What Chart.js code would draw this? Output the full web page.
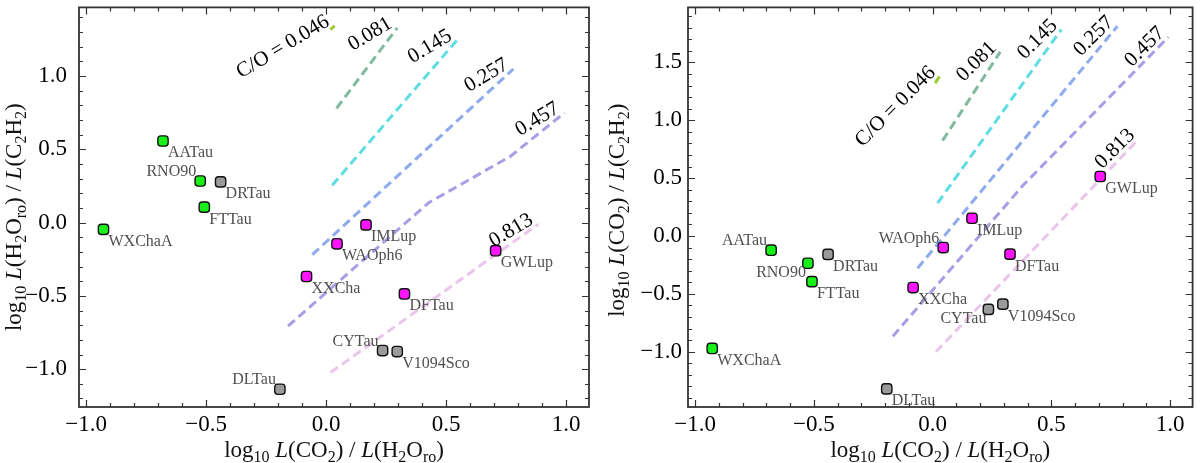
<!DOCTYPE html>
<html>
<head>
<meta charset="utf-8">
<script src="https://cdn.jsdelivr.net/npm/chart.js@4.4.1/dist/chart.umd.min.js"></script>
<style>
  html, body { margin: 0; background: #fff; }
  #wrap { position: relative; width: 1200px; height: 463px; }
  canvas { position: absolute; top: 0; }
</style>
</head>
<body>
<div id="wrap">
  <canvas id="left" width="600" height="463" style="left:0"></canvas>
  <canvas id="right" width="600" height="463" style="left:600px"></canvas>
</div>
<script>
// ---------- data ----------
const names = ['AATau', 'RNO90', 'FTTau', 'WXChaA', 'DRTau', 'DLTau', 'CYTau', 'V1094Sco',
               'IMLup', 'WAOph6', 'XXCha', 'DFTau', 'GWLup'];
const kind = ['g', 'g', 'g', 'g', 'k', 'k', 'k', 'k', 'm', 'm', 'm', 'm', 'm'];
const logCO2_H2O = [-0.68, -0.525, -0.508, -0.928, -0.44, -0.193, 0.235, 0.296,
                    0.166, 0.045, -0.082, 0.326, 0.706];
const logH2O_C2H2 = [0.556, 0.283, 0.105, -0.047, 0.277, -1.137, -0.873, -0.880,
                     -0.016, -0.145, -0.368, -0.487, -0.192];
const logCO2_C2H2 = [-0.123, -0.236, -0.395, -0.972, -0.159, -1.321, -0.634, -0.589,
                     0.153, -0.100, -0.446, -0.157, 0.514];

// where each name sits next to its point
const labelPosLeft = ['br', 'tl', 'br', 'br', 'br', 'tl', 'tl', 'br', 'br', 'br', 'br', 'br', 'br'];
const labelPosRight = ['tl', 'bl', 'br', 'br', 'br', 'br', 'bl', 'br', 'br', 'tl', 'br', 'br', 'br'];

// C/O model tracks
const coRatios = ['0.046', '0.081', '0.145', '0.257', '0.457', '0.813'];
const coLeft046 = [[0.018, 1.315], [0.035, 1.342]];
const coLeft081 = [[0.043, 0.779], [0.296, 1.328]];
const coLeft145 = [[0.025, 0.254], [0.545, 1.244]];
const coLeft257 = [[-0.058, -0.219], [0.780, 1.047]];
const coLeft457 = [[-0.159, -0.706], [0.426, 0.134], [0.767, 0.451], [0.993, 0.748]];
const coLeft813 = [[0.018, -1.023], [0.884, -0.011]];
const coRight046 = [[0.011, 1.321], [0.029, 1.378]];
const coRight081 = [[0.042, 0.824], [0.285, 1.591]];
const coRight145 = [[0.021, 0.284], [0.542, 1.784]];
const coRight257 = [[-0.063, -0.279], [0.778, 1.812]];
const coRight457 = [[-0.167, -0.866], [0.382, 0.44], [0.993, 1.719]];
const coRight813 = [[0.014, -1.001], [0.868, 0.838]];

// axis titles: [text, n=normal | i=italic | s=subscript]
const xTitle = [['log', 'n'], ['10', 's'], [' ', 'n'], ['L', 'i'], ['(CO', 'n'], ['2', 's'],
                [') / ', 'n'], ['L', 'i'], ['(H', 'n'], ['2', 's'], ['O', 'n'], ['ro', 's'], [')', 'n']];
const yTitleLeft = [['log', 'n'], ['10', 's'], [' ', 'n'], ['L', 'i'], ['(H', 'n'], ['2', 's'], ['O', 'n'],
                    ['ro', 's'], [') / ', 'n'], ['L', 'i'], ['(C', 'n'], ['2', 's'], ['H', 'n'], ['2', 's'], [')', 'n']];
const yTitleRight = [['log', 'n'], ['10', 's'], [' ', 'n'], ['L', 'i'], ['(CO', 'n'], ['2', 's'],
                     [') / ', 'n'], ['L', 'i'], ['(C', 'n'], ['2', 's'], ['H', 'n'], ['2', 's'], [')', 'n']];

// ---------- styles ----------
const SERIF = '"Liberation Serif", "DejaVu Serif", serif';
const kindColor = { g: '#19f019', k: '#9a9a9a', m: '#ff14ff' };
const coColors = ['#9acd32', '#80bb9f', '#5fdde3', '#8eabee', '#a99ee6', '#ebc6eb'];

const isMajor = (v) => Math.abs(v * 2 - Math.round(v * 2)) < 1e-6;
const fmt = (v) => isMajor(v) ? (Math.round(v * 10) / 10).toFixed(1).replace('-', '\u2212') : '';

function richText(ctx, parts, size, cx, cy, rot) {
  const sub = Math.round(size * 0.7);
  const fontOf = (s) => s === 'i' ? `italic ${size}px ${SERIF}` : s === 's' ? `${sub}px ${SERIF}` : `${size}px ${SERIF}`;
  ctx.save();
  ctx.translate(cx, cy);
  ctx.rotate(rot);
  let w = 0;
  for (const [t, s] of parts) { ctx.font = fontOf(s); w += ctx.measureText(t).width; }
  let px = -w / 2;
  ctx.textAlign = 'left';
  ctx.textBaseline = 'alphabetic';
  ctx.fillStyle = '#111';
  for (const [t, s] of parts) {
    ctx.font = fontOf(s);
    ctx.fillText(t, px, s === 's' ? size * 0.22 : 0);
    px += ctx.measureText(t).width;
  }
  ctx.restore();
}

// frame + inward ticks on all four sides, axis titles
const framePlugin = {
  id: 'framePlugin',
  afterDraw(chart) {
    const { ctx, chartArea: a, scales: { x, y } } = chart;
    const o = chart.options.plugins.framePlugin;
    ctx.save();
    ctx.strokeStyle = '#333';
    ctx.lineWidth = 1.2;
    ctx.beginPath();
    for (const t of x.ticks) {
      const px = Math.round(x.getPixelForValue(t.value)) + 0.5;
      const len = isMajor(t.value) ? 7 : 4;
      ctx.moveTo(px, a.bottom); ctx.lineTo(px, a.bottom - len);
      ctx.moveTo(px, a.top); ctx.lineTo(px, a.top + len);
    }
    for (const t of y.ticks) {
      const py = Math.round(y.getPixelForValue(t.value)) + 0.5;
      const len = isMajor(t.value) ? 7 : 4;
      ctx.moveTo(a.left, py); ctx.lineTo(a.left + len, py);
      ctx.moveTo(a.right, py); ctx.lineTo(a.right - len, py);
    }
    ctx.stroke();
    ctx.lineWidth = 1.8;
    ctx.strokeRect(a.left, a.top, a.right - a.left, a.bottom - a.top);
    ctx.restore();

    richText(ctx, xTitle, 23, (a.left + a.right) / 2, a.bottom + 50, 0);
    richText(ctx, o.yTitle, 23, o.yTitleX, (a.top + a.bottom) / 2 + o.yTitleShift, -Math.PI / 2);
  },
};

// names beside points, C/O values at the top of each track
const labelPlugin = {
  id: 'labelPlugin',
  afterDatasetsDraw(chart) {
    const { ctx } = chart;
    const o = chart.options.plugins.labelPlugin;
    ctx.save();
    chart.data.datasets.forEach((ds, i) => {
      const meta = chart.getDatasetMeta(i);
      if (ds.names) {
        ctx.font = `16px ${SERIF}`;
        ctx.fillStyle = '#505050';
        ctx.textBaseline = 'alphabetic';
        meta.data.forEach((pt, j) => {
          const pos = ds.pos[j];
          if (pos === 'br') { ctx.textAlign = 'left'; ctx.fillText(ds.names[j], pt.x + 5, pt.y + 16.5); }
          else if (pos === 'tl') { ctx.textAlign = 'right'; ctx.fillText(ds.names[j], pt.x - 4, pt.y - 5); }
          else { ctx.textAlign = 'right'; ctx.fillText(ds.names[j], pt.x - 2, pt.y + 14); }
        });
      }
      if (ds.coLabel) {
        const end = meta.data[meta.data.length - 1];
        ctx.save();
        ctx.translate(end.x + o.dx, end.y + o.dy);
        ctx.rotate(o.angle);
        ctx.font = `21px ${SERIF}`;
        ctx.fillStyle = '#000';
        ctx.textAlign = 'right';
        ctx.textBaseline = 'alphabetic';
        ctx.fillText(ds.coLabel, 0, 0);
        ctx.restore();
      }
    });
    ctx.restore();
  },
};

function makePanel(canvasId, yVals, curves, opts) {
  const points = {
    type: 'scatter',
    data: logCO2_H2O.map((x, i) => ({ x, y: yVals[i] })),
    names,
    pos: opts.labelPos,
    pointStyle: 'rectRounded',
    pointRadius: 6,
    pointHoverRadius: 6,
    borderWidth: 1.4,
    borderColor: '#111',
    backgroundColor: kind.map(k => kindColor[k]),
    order: 0,
  };
  const tracks = curves.map((c, i) => ({
    type: 'line',
    data: c.map(([x, y]) => ({ x, y })),
    coLabel: i === 0 ? 'C/O = ' + coRatios[i] : coRatios[i],
    borderColor: coColors[i],
    borderWidth: 3,
    borderDash: [9, 5],
    pointRadius: 0,
    fill: false,
    tension: 0,
    order: 1,
  }));

  const tickFont = { family: SERIF, size: 23 };
  return new Chart(document.getElementById(canvasId), {
    type: 'scatter',
    data: { datasets: [points, ...tracks] },
    options: {
      responsive: false,
      animation: false,
      devicePixelRatio: 1,
      layout: { padding: opts.padding },
      scales: {
        x: {
          type: 'linear',
          min: -1.03, max: 1.095,
          grid: { display: false, drawTicks: false },
          border: { display: false },
          ticks: { stepSize: 0.1, includeBounds: false, autoSkip: false, maxRotation: 0,
                   padding: 4, color: '#000', font: tickFont, callback: fmt },
          afterFit: (s) => { s.height = 56; s.paddingLeft = 0; s.paddingRight = 0; s.paddingTop = 0; s.paddingBottom = 0; },
        },
        y: {
          type: 'linear',
          min: opts.yMin, max: opts.yMax,
          grid: { display: false, drawTicks: false },
          border: { display: false },
          ticks: { stepSize: 0.1, includeBounds: false, autoSkip: false,
                   padding: opts.yTickPad, color: '#000', font: tickFont, callback: fmt },
          afterFit: (s) => { s.width = opts.yWidth; s.paddingLeft = 0; s.paddingRight = 0; s.paddingTop = 0; s.paddingBottom = 0; },
        },
      },
      plugins: {
        legend: { display: false },
        tooltip: { enabled: false },
        framePlugin: { yTitle: opts.yTitle, yTitleX: opts.yTitleX, yTitleShift: opts.yTitleShift },
        labelPlugin: opts.coLabel,
      },
    },
    plugins: [framePlugin, labelPlugin],
  });
}

makePanel('left', logH2O_C2H2,
  [coLeft046, coLeft081, coLeft145, coLeft257, coLeft457, coLeft813], {
    labelPos: labelPosLeft,
    padding: { left: 0, right: 11, top: 1, bottom: 0 },
    yMin: -1.258, yMax: 1.467, yWidth: 79, yTickPad: 12,
    yTitle: yTitleLeft, yTitleX: 21, yTitleShift: 10,
    coLabel: { angle: -31 * Math.PI / 180, dx: -4, dy: -1 },
  });

makePanel('right', logCO2_C2H2,
  [coRight046, coRight081, coRight145, coRight257, coRight457, coRight813], {
    labelPos: labelPosRight,
    padding: { left: 0, right: 2, top: 2, bottom: 0 },
    yMin: -1.478, yMax: 1.975, yWidth: 88, yTickPad: 6,
    yTitle: yTitleRight, yTitleX: 24, yTitleShift: 3,
    coLabel: { angle: -45 * Math.PI / 180, dx: -3, dy: -3 },
  });
</script>
</body>
</html>
